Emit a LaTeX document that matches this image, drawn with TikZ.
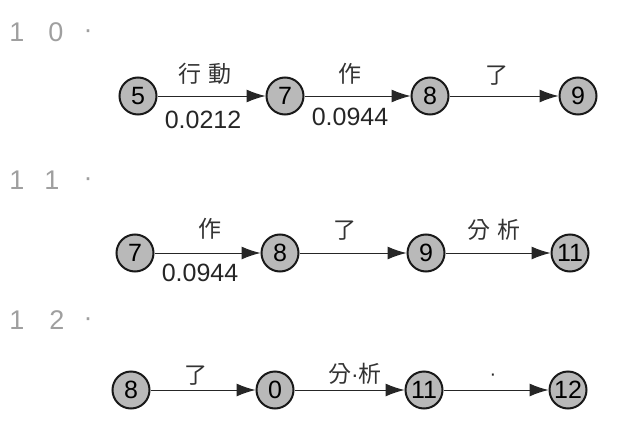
\documentclass[tikz,border=0pt]{standalone}
\usepackage{fontspec}
\setmainfont{Liberation Sans}
\newfontfamily\cjk{Noto Sans CJK TC}
\usetikzlibrary{arrows.meta}
\begin{document}
\begin{tikzpicture}[x=1pt,y=-1pt,
  st/.style={circle,draw=black!90,line width=2pt,fill=gray!55,minimum size=37pt,inner sep=0pt,font=\fontsize{25}{25}\selectfont},
  ar/.style={draw=black!85,line width=1pt,-{Latex[length=19pt,width=13pt]}},
  lab/.style={font=\cjk\fontsize{23}{23}\selectfont,text=black!80},
  num/.style={font=\fontsize{25}{25}\selectfont,text=black!85},
  head/.style={font=\fontsize{27}{27}\selectfont,text=gray!75}]
\useasboundingbox (0,0) rectangle (624,431);
% headings
\node[head] (h10a) at (17,32) {1};
\node[head] (h10b) at (56,32) {0};
\node[head] (h10c) at (88,34) {·};
\node[head] (h11a) at (17,180) {1};
\node[head] (h11b) at (52,180) {1};
\node[head] (h11c) at (88,182) {·};
\node[head] (h12a) at (17,320) {1};
\node[head] (h12b) at (57,320) {2};
\node[head] (h12c) at (88,322) {·};
% row 1
\node[st] (a5) at (138,96) {5};
\node[st] (a7) at (285,96) {7};
\node[st] (a8) at (430,96) {8};
\node[st] (a9) at (578,96) {9};
\draw[ar] (a5) -- (a7);
\draw[ar] (a7) -- (a8);
\draw[ar] (a8) -- (a9);
\node[lab] (l1) at (205,74) {行\,\,動};
\node[num] (n1) at (203,120) {0.0212};
\node[lab] (l2) at (350,74) {作};
\node[num] (n2) at (350,117) {0.0944};
\node[lab] (l3) at (497,76) {了};
% row 2
\node[st] (b7) at (135,253) {7};
\node[st] (b8) at (280,253) {8};
\node[st] (b9) at (426,253) {9};
\node[st] (b11) at (570,253) {11};
\draw[ar] (b7) -- (b8);
\draw[ar] (b8) -- (b9);
\draw[ar] (b9) -- (b11);
\node[lab] (l4) at (210,229) {作};
\node[num] (n4) at (200,273) {0.0944};
\node[lab] (l5) at (345,231) {了};
\node[lab] (l6) at (494,230) {分\,\,析};
% row 3
\node[st] (c8) at (131,390) {8};
\node[st] (c0) at (275,390) {0};
\node[st] (c11) at (424,390) {11};
\node[st] (c12) at (568,390) {12};
\draw[ar] (c8) -- (c0);
\draw[ar] (c0) -- (c11);
\draw[ar] (c11) -- (c12);
\node[lab] (l7) at (196,376) {了};
\node[lab] (l8) at (355,374) {分{\rmfamily\fontsize{23}{23}\selectfont ·}析};
\node[num] (l9) at (493,377) {\fontsize{20}{20}\selectfont ·};
\end{tikzpicture}
\end{document}
